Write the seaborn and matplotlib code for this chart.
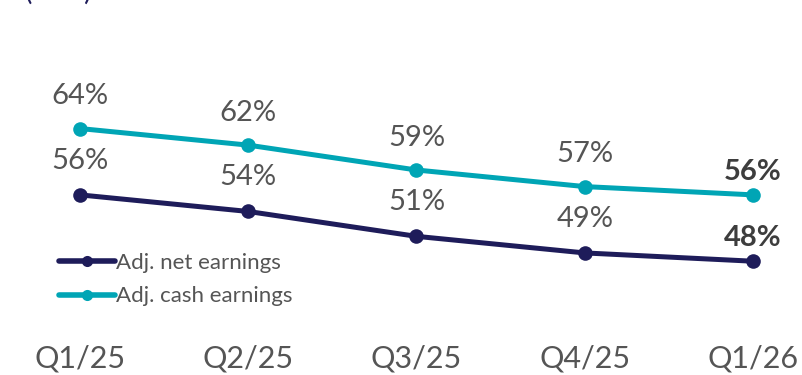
import matplotlib
matplotlib.use("Agg")
import matplotlib.pyplot as plt
import seaborn as sns
import pandas as pd

quarters = ["Q1/25", "Q2/25", "Q3/25", "Q4/25", "Q1/26"]
net_earnings = [56, 54, 51, 49, 48]
cash_earnings = [64, 62, 59, 57, 56]
series_names = ["Adj. net earnings", "Adj. cash earnings"]

NAVY = "#1e1c5a"
TEAL = "#00a5b5"
GREY = "#555555"

sns.set_theme(style="white")
plt.rcParams["font.family"] = ["Lato", "DejaVu Sans"]

df = pd.DataFrame({
    "quarter": quarters * 2,
    "x": list(range(len(quarters))) * 2,
    "value": net_earnings + cash_earnings,
    "series": [series_names[0]] * len(quarters) + [series_names[1]] * len(quarters),
})

fig = plt.figure(figsize=(8.03, 3.75), dpi=100)
ax = fig.add_axes([0, 35 / 375, 1, 340 / 375])

sns.lineplot(data=df, x="x", y="value", hue="series",
             palette={series_names[0]: NAVY, series_names[1]: TEAL},
             marker="o", markersize=10.5, markeredgewidth=0, linewidth=3.6,
             ax=ax, legend=True)

ax.set_xlim(-0.475, 4.297)
ax.set_ylim(38.5, 79.5)

# value labels above each point; the latest quarter is emphasised
for vals, off in ((cash_earnings, 3.9), (net_earnings, 4.1)):
    for i, v in enumerate(vals):
        last = i == len(vals) - 1
        ax.text(i, v + (2.8 if last else off), f"{v}%", ha="center", va="center",
                fontsize=21, color="#3d3d3d" if last else GREY,
                fontweight="bold" if last else "normal")

ax.set_xticks(range(len(quarters)))
ax.set_xticklabels(quarters, fontsize=22, color=GREY)
ax.tick_params(axis="x", length=0, pad=3)
ax.set_yticks([])
ax.set_xlabel("")
ax.set_ylabel("")
for s in ax.spines.values():
    s.set_visible(False)

leg = ax.legend(loc="upper left", bbox_to_anchor=(59 / 803, 1 - 253 / 340),
                frameon=False, fontsize=16, handlelength=2.5, borderpad=0,
                handletextpad=0.08, labelspacing=0.6, borderaxespad=0)
for h in leg.legend_handles:
    h.set_markersize(8)
    h.set_linewidth(4)
for t in leg.get_texts():
    t.set_color(GREY)

fig.text(25 / 803, 1.0, "(in %)", fontsize=20, color=NAVY, va="baseline", ha="left")

fig.savefig("out.png", dpi=100)
